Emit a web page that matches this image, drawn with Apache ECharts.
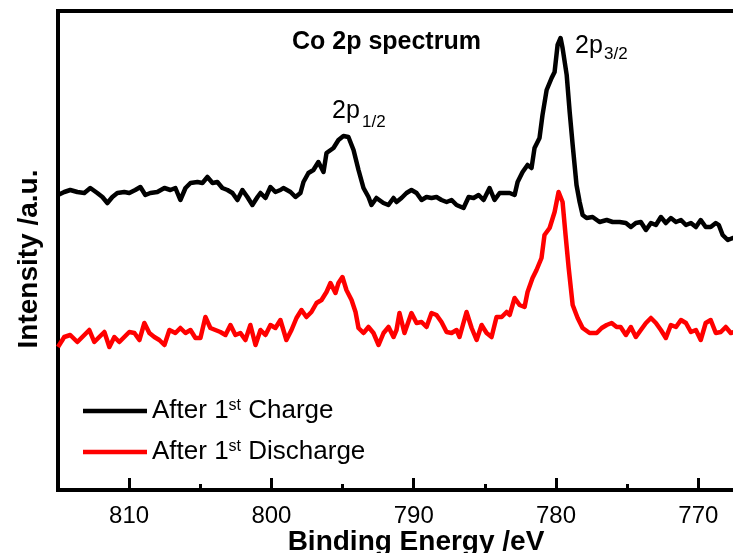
<!DOCTYPE html>
<html>
<head>
<meta charset="utf-8">
<script src="https://cdn.jsdelivr.net/npm/echarts@6/dist/echarts.min.js"></script>
<style>
html,body{margin:0;padding:0;background:#fff;}
#chart{width:733px;height:553px;}
</style>
</head>
<body>
<div id="chart"></div>
<script>
// Binding energy (eV) and intensity (a.u.)
var chargeEnergy = [
  815.0,814.56,814.14,813.64,813.15,812.73,812.24,811.88,811.53,811.18,
  810.83,810.34,809.99,809.57,809.21,808.86,808.51,808.02,807.52,807.10,
  806.75,806.40,806.04,805.69,805.20,804.85,804.50,804.14,803.80,803.45,
  803.09,802.74,802.39,802.04,801.69,801.34,800.98,800.77,800.42,800.07,
  799.72,799.37,799.16,798.66,798.31,797.96,797.75,797.40,797.05,796.70,
  796.34,796.13,795.64,795.29,794.94,794.59,794.23,793.88,793.53,793.18,
  792.97,792.62,792.13,791.78,791.42,791.21,790.86,790.51,790.16,789.80,
  789.45,789.10,788.75,788.40,788.05,787.69,787.34,786.99,786.50,786.14,
  785.79,785.44,785.09,784.67,784.32,783.96,783.61,783.26,782.91,782.70,
  782.35,782.00,781.72,781.51,781.16,780.95,780.66,780.31,780.10,779.89,
  779.68,779.54,779.25,779.04,778.83,778.56,778.34,778.13,777.85,777.43,
  776.94,776.44,776.02,775.53,775.09,774.74,774.39,774.04,773.68,773.33,
  772.98,772.63,772.28,771.93,771.57,771.22,770.87,770.52,770.17,769.83,
  769.48,769.13,768.77,768.56,768.29,767.93,767.58,767.0
];
var chargeIntensity = [
  295,298,300,298,297,302,297,293,287,293,
  297,298,297,300,303,295,297,298,302,300,
  302,290,302,307,308,307,313,307,308,302,
  300,297,290,300,293,285,293,297,292,303,
  298,300,302,298,293,297,308,317,320,328,
  318,337,342,350,354,353,340,320,302,293,
  285,292,287,285,292,288,292,297,300,297,
  290,293,292,293,290,288,290,285,282,293,
  292,295,290,302,290,297,297,297,295,308,
  318,325,322,342,352,375,400,412,418,445,
  452,442,415,378,345,305,288,275,272,273,
  268,270,268,268,267,263,267,268,260,267,
  265,273,267,272,268,270,265,267,263,270,
  263,263,267,265,255,250,252,250
];
var dischargeEnergy = [
  815.0,814.56,814.14,813.64,813.15,812.80,812.45,812.10,811.74,811.39,
  811.04,810.69,810.34,809.99,809.63,809.28,808.93,808.58,808.23,807.88,
  807.52,807.17,806.75,806.40,806.04,805.69,805.34,804.99,804.64,804.29,
  803.94,803.59,803.23,802.88,802.53,802.18,801.83,801.48,801.12,800.77,
  800.42,800.07,799.72,799.37,798.95,798.59,798.24,797.89,797.54,797.19,
  796.83,796.48,796.13,795.85,795.50,795.29,795.01,794.73,794.37,794.09,
  793.88,793.53,793.18,792.83,792.47,792.12,791.77,791.42,791.21,791.00,
  790.65,790.16,789.80,789.45,789.10,788.75,788.40,788.05,787.69,787.34,
  786.99,786.78,786.29,785.93,785.58,785.23,784.88,784.53,784.18,783.82,
  783.47,783.26,782.91,782.56,782.21,782.00,781.65,781.37,781.02,780.81,
  780.45,780.10,779.82,779.54,779.33,779.11,778.83,778.48,778.13,777.64,
  777.14,776.79,776.44,776.09,775.74,775.46,775.09,774.74,774.39,774.04,
  773.68,773.33,772.98,772.63,772.28,771.93,771.57,771.22,770.87,770.52,
  770.17,769.83,769.48,769.13,768.77,768.42,768.07,767.72,767.0
];
var dischargeIntensity = [
  143,153,155,148,155,160,148,153,158,143,
  153,148,153,158,157,150,167,157,153,150,
  145,160,157,162,157,160,152,152,173,162,
  160,158,155,165,155,157,150,165,145,160,
  155,165,162,170,150,160,172,180,173,178,
  187,190,198,207,197,207,213,200,190,178,
  162,157,163,157,145,157,163,153,160,177,
  157,177,167,168,163,177,175,168,158,157,
  160,153,178,162,150,165,157,153,173,173,
  178,175,192,185,183,198,212,220,232,255,
  262,278,298,288,255,222,185,172,162,157,
  157,162,165,167,163,163,155,163,153,160,
  167,172,167,160,152,165,163,170,167,158,
  160,150,167,170,157,158,163,157,160
];
var seriesNames = ['After 1st Charge', 'After 1st Discharge'];
var majorTicks = [810, 800, 790, 780, 770];
var minorTicks = [805, 795, 785, 775];

function pairs(xs, ys) {
  var out = [];
  var n = Math.min(xs.length, ys.length);
  for (var i = 0; i < n; i++) out.push([xs[i], ys[i]]);
  return out;
}

var FONT = "'Liberation Sans', Arial, Helvetica, sans-serif";
var chart = echarts.init(document.getElementById('chart'), null, {renderer: 'canvas'});

var legendCommon = {
  orient: 'vertical',
  left: 78,
  icon: 'rect',
  itemWidth: 64,
  itemHeight: 4.5,
  selectedMode: false,
  formatter: function (name) { return name.replace('1st', '1{sup|st}'); },
  textStyle: {
    fontFamily: FONT, fontSize: 26, color: '#000',
    rich: { sup: { fontFamily: FONT, fontSize: 16, color: '#000', verticalAlign: 'top' } }
  }
};

chart.setOption({
  animation: false,
  backgroundColor: '#fff',
  grid: {
    left: 58, top: 11, width: 683, height: 479,
    outerBoundsMode: 'none', containLabel: false,
    show: true, borderColor: '#000', borderWidth: 4, backgroundColor: 'transparent'
  },
  legend: [
    Object.assign({}, legendCommon, { data: [seriesNames[0]], top: 393 }),
    Object.assign({}, legendCommon, { data: [seriesNames[1]], top: 434 })
  ],
  xAxis: [
    {
      type: 'value', min: 767, max: 815, inverse: true, position: 'bottom',
      axisLine: { show: true, lineStyle: { color: '#000', width: 4 } },
      axisTick: { show: true, inside: true, length: 12, customValues: majorTicks,
                  lineStyle: { color: '#000', width: 3 } },
      axisLabel: { show: true, customValues: majorTicks, margin: 14,
                   fontFamily: FONT, fontSize: 24, color: '#000' },
      splitLine: { show: false }
    },
    {
      type: 'value', min: 767, max: 815, inverse: true, position: 'bottom',
      axisLine: { show: false },
      axisTick: { show: true, inside: true, length: 6, customValues: minorTicks,
                  lineStyle: { color: '#000', width: 3 } },
      axisLabel: { show: false },
      splitLine: { show: false }
    }
  ],
  yAxis: {
    type: 'value', min: 0, max: 479,
    axisLine: { show: true, lineStyle: { color: '#000', width: 4 } },
    axisTick: { show: false },
    axisLabel: { show: false },
    splitLine: { show: false }
  },
  series: [
    {
      name: seriesNames[0], type: 'line', xAxisIndex: 0,
      data: pairs(chargeEnergy, chargeIntensity),
      showSymbol: false, symbol: 'none',
      lineStyle: { color: '#000', width: 4.5, join: 'round' },
      itemStyle: { color: '#000' }, z: 3
    },
    {
      name: seriesNames[1], type: 'line', xAxisIndex: 0,
      data: pairs(dischargeEnergy, dischargeIntensity),
      showSymbol: false, symbol: 'none',
      lineStyle: { color: '#ff0000', width: 4.5, join: 'round' },
      itemStyle: { color: '#ff0000' }, z: 3
    }
  ],
  graphic: [
    { type: 'text', left: 292, top: 30,
      style: { text: 'Co 2p spectrum', font: 'bold 25px ' + FONT, fill: '#000' } },
    { type: 'text', x: 575, y: 46,
      style: { text: '2p', font: '25px ' + FONT, fill: '#000', verticalAlign: 'middle' } },
    { type: 'text', x: 604, y: 54,
      style: { text: '3/2', font: '17px ' + FONT, fill: '#000', verticalAlign: 'middle' } },
    { type: 'text', x: 332, y: 111,
      style: { text: '2p', font: '25px ' + FONT, fill: '#000', verticalAlign: 'middle' } },
    { type: 'text', x: 362, y: 122,
      style: { text: '1/2', font: '17px ' + FONT, fill: '#000', verticalAlign: 'middle' } },
    { type: 'text', x: 416, y: 542,
      style: { text: 'Binding Energy /eV', font: 'bold 28px ' + FONT, fill: '#000',
               align: 'center', verticalAlign: 'middle' } },
    { type: 'text', x: 29, y: 259, rotation: Math.PI / 2,
      style: { text: 'Intensity /a.u.', font: 'bold 28px ' + FONT, fill: '#000',
               align: 'center', verticalAlign: 'middle' } }
  ]
});
</script>
</body>
</html>
